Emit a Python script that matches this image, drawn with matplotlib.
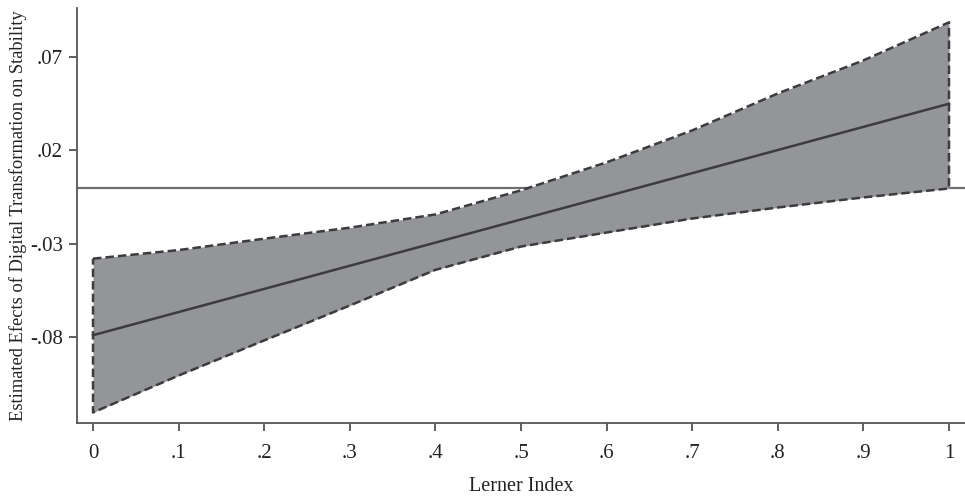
import numpy as np
import matplotlib
matplotlib.use("Agg")
import matplotlib.pyplot as plt

# Lerner index grid and estimated marginal effects
lerner = [0.0, 0.1, 0.2, 0.3, 0.4, 0.5, 0.6, 0.7, 0.8, 0.9, 1.0]
effect = [-0.079, -0.0666, -0.0542, -0.0418, -0.0294, -0.017,
          -0.0046, 0.0078, 0.0202, 0.0326, 0.045]
upper = [-0.038, -0.0334, -0.0273, -0.0214, -0.0143, -0.0014,
         0.0136, 0.0307, 0.0505, 0.0682, 0.0886]
lower = [-0.1204, -0.1006, -0.0818, -0.0631, -0.0440, -0.0315,
         -0.0240, -0.0165, -0.0106, -0.0052, -0.0004]

xticks = [0, 0.1, 0.2, 0.3, 0.4, 0.5, 0.6, 0.7, 0.8, 0.9, 1]
xtick_labels = ["0", ".1", ".2", ".3", ".4", ".5", ".6", ".7", ".8", ".9", "1"]
yticks = [-0.08, -0.03, 0.02, 0.07]
ytick_labels = ["-.08", "-.03", ".02", ".07"]

plt.rcParams['font.family'] = ['Liberation Serif', 'DejaVu Serif']

fig = plt.figure(figsize=(9.65, 4.97), dpi=100)
ax = fig.add_axes([0.0798, 0.149, 0.9202, 0.835])

edge = '#3c3c3e'
ax.axhline(0, color='#6d6e71', lw=1.6, zorder=1)
ax.fill_between(lerner, lower, upper, color='#939598', lw=0, zorder=2)

# dashed outline of the confidence band
ox = list(lerner) + list(lerner[::-1]) + [lerner[0]]
oy = list(upper) + list(lower[::-1]) + [upper[0]]
ax.plot(ox, oy, color=edge, lw=1.8, dashes=(3.4, 1.6), zorder=3)
ax.plot(lerner, effect, color=edge, lw=1.8, zorder=4)

ax.set_xlim(-0.0187, 1.0187)
ax.set_ylim(-0.126, 0.0963)
ax.set_xticks(xticks)
ax.set_xticklabels(xtick_labels)
ax.set_yticks(yticks)
ax.set_yticklabels(ytick_labels)

for s in ['top', 'right']:
    ax.spines[s].set_visible(False)
for s in ['left', 'bottom']:
    ax.spines[s].set_color('#555555')
    ax.spines[s].set_linewidth(1.3)

ax.tick_params(axis='x', length=6, width=1.1, color='#333333',
               labelsize=15, pad=9, labelcolor='#222222')
ax.tick_params(axis='y', length=6, width=1.1, color='#333333',
               labelsize=15, pad=4, labelcolor='#222222')

ax.set_xlabel("Lerner Index", fontsize=14.5, labelpad=10, color='#222222')
ax.set_ylabel("Estimated Efects of Digital Transformation on Stability",
              fontsize=13.3, labelpad=2, color='#222222')

fig.savefig("out.png", dpi=100)
